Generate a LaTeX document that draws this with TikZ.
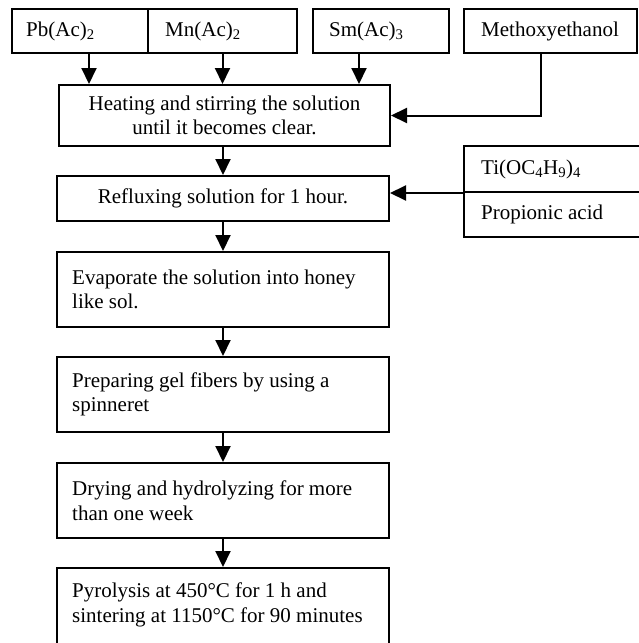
\documentclass[tikz,border=0pt]{standalone}
\usepackage{fontspec}
\setmainfont{Liberation Serif}
\usetikzlibrary{arrows.meta}
\begin{document}
\begin{tikzpicture}[x=1pt,y=-1pt,
  font=\fontsize{21}{24.5}\selectfont,
  box/.style={draw, line width=2pt, rectangle, inner sep=0pt},
  txt/.style={inner sep=0pt, align=left, anchor=west},
  arr/.style={line width=2pt, -{Triangle[width=15pt,length=16pt]}}]
\useasboundingbox (0,0) rectangle (639,643);
\clip (0,0) rectangle (639,643);
% top boxes
\node[box, minimum width=136pt, minimum height=44pt] (pb) at (80,31) {};
\node[box, minimum width=149pt, minimum height=44pt] (mn) at (222.5,31) {};
\node[box, minimum width=136pt, minimum height=44pt] (sm) at (381,31) {};
\node[box, minimum width=173pt, minimum height=44pt] (meth) at (550.5,31) {};
\node[txt] (tpb) at ([xshift=15pt]pb.west) {Pb(Ac)\textsubscript{2}};
\node[txt] (tmn) at ([xshift=18pt]mn.west) {Mn(Ac)\textsubscript{2}};
\node[txt] (tsm) at ([xshift=17pt]sm.west) {Sm(Ac)\textsubscript{3}};
\node[txt] (tmeth) at ([xshift=18pt]meth.west) {Methoxyethanol};
% main column
\node[box, minimum width=331pt, minimum height=61pt, align=center] (heat) at (224.5,115.5)
  {Heating and stirring the solution\\until it becomes clear.};
\node[box, minimum width=332pt, minimum height=45pt] (refl) at (223,198.5)
  {Refluxing solution for 1 hour.};
\node[box, minimum width=332pt, minimum height=75pt] (evap) at (223,289.5) {};
\node[box, minimum width=332pt, minimum height=75pt] (prep) at (223,394.5) {};
\node[box, minimum width=332pt, minimum height=75pt] (dry) at (223,500.5) {};
\node[box, minimum width=332pt, minimum height=87pt] (pyro) at (223,611.5) {};
\node[txt] (tevap) at ([xshift=16pt]evap.west) {Evaporate the solution into honey\\like sol.};
\node[txt] (tprep) at ([xshift=16pt]prep.west) {Preparing gel fibers by using a\\spinneret};
\node[txt] (tdry) at ([xshift=16pt]dry.west) {Drying and hydrolyzing for more\\than one week};
\node[txt] (tpyro) at ([xshift=16pt,yshift=-38pt]pyro.north west) {Pyrolysis at 450°C for 1 h and\\sintering at 1150°C for 90 minutes};
% right side boxes
\node[box, minimum width=236pt, minimum height=46pt] (ti) at (582,169) {};
\node[box, minimum width=236pt, minimum height=45pt] (prop) at (582,214.5) {};
\node[txt] (tti) at ([xshift=18pt]ti.west) {Ti(OC\textsubscript{4}H\textsubscript{9})\textsubscript{4}};
\node[txt] (tprop) at ([xshift=18pt]prop.west) {Propionic acid};
% connectors
\draw[arr] ([xshift=9pt]pb.south) -- ([xshift=9pt]pb.south |- heat.north);
\draw[arr] (mn.south) -- (mn.south |- heat.north);
\draw[arr] ([xshift=-22pt]sm.south) -- ([xshift=-22pt]sm.south |- heat.north);
\draw[arr] ([xshift=-10pt]meth.south) |- (heat.east);
\draw[arr] (heat.south -| refl.north) -- (refl.north);
\draw[arr] (ti.south west) -- (ti.south west -| refl.east);
\draw[arr] (refl.south) -- (evap.north);
\draw[arr] (evap.south) -- (prep.north);
\draw[arr] (prep.south) -- (dry.north);
\draw[arr] (dry.south) -- (pyro.north);
\end{tikzpicture}
\end{document}
